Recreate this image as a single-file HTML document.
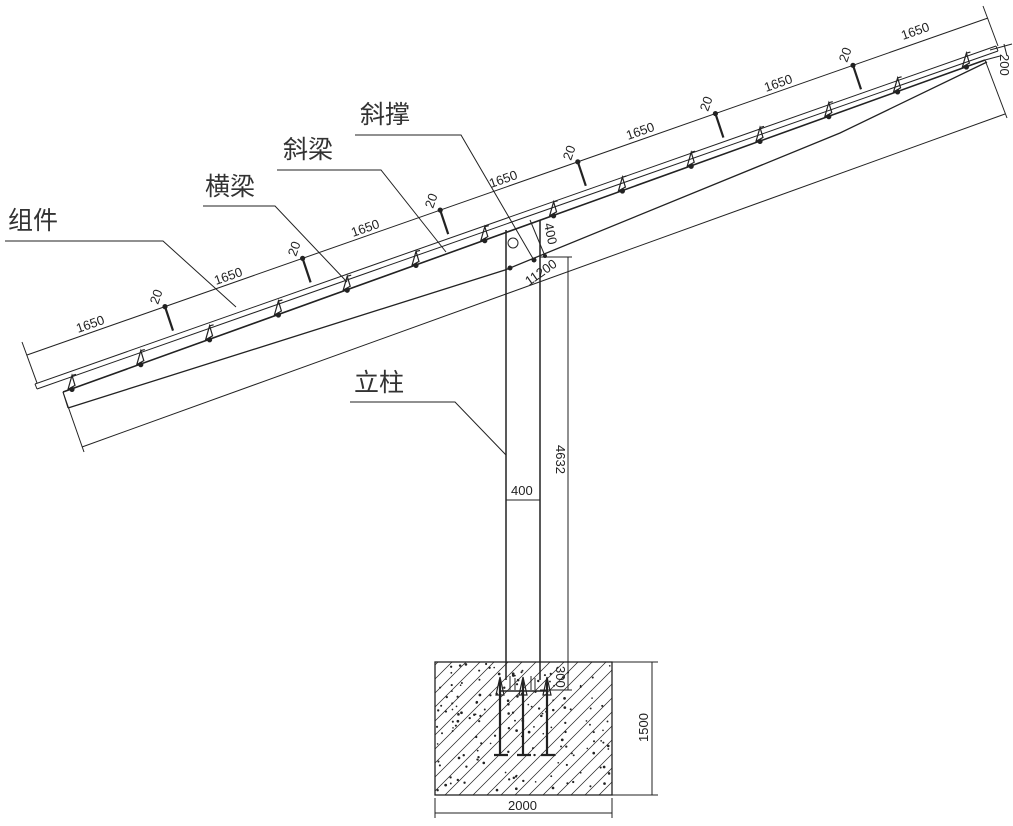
<!DOCTYPE html>
<html><head><meta charset="utf-8">
<style>
html,body{margin:0;padding:0;background:#fff;}
svg{display:block;}
text{font-family:"Liberation Sans","Noto Sans CJK SC",sans-serif;fill:#222;}
.d{font-size:13px;}
.c{font-size:25px;fill:#333;}
</style></head>
<body>
<svg id="s" width="1013" height="826" viewBox="0 0 1013 826" xmlns="http://www.w3.org/2000/svg">
<defs>
<clipPath id="fc"><rect x="435" y="662" width="177" height="133"/></clipPath>
</defs>
<g stroke="#222" fill="none" stroke-width="1">
<line x1="27" y1="355" x2="988" y2="18"/>
<line x1="22" y1="342" x2="37" y2="383"/>
<line x1="983" y1="6" x2="998" y2="46"/>
<line x1="35" y1="384" x2="996" y2="46"/>
<line x1="37" y1="389" x2="998" y2="51"/>
<line x1="35" y1="384" x2="37" y2="389"/>
<line x1="996" y1="46" x2="998" y2="51"/>
<line x1="63" y1="392" x2="985" y2="60" stroke-width="1.6"/>
<line x1="63" y1="392" x2="68" y2="408"/>
<polyline points="68,408 505,270 840,133 987,62" stroke-width="1.3"/>
<line x1="82" y1="447" x2="1005" y2="114"/>
<line x1="63" y1="392" x2="84" y2="452"/>
<line x1="985" y1="60" x2="1007" y2="118"/>
<line x1="985" y1="60" x2="1000" y2="56"/>
<line x1="990" y1="50" x2="1012" y2="44"/>
<line x1="1004" y1="44" x2="1007" y2="56"/>
<polyline points="5,241 163,241 236,307"/>
<polyline points="203,206 275,206 347,282"/>
<polyline points="277,170 381,170 446,252"/>
<polyline points="355,135 461,135 535,262"/>
<circle cx="513" cy="243" r="5"/>
<polyline points="350,402 455,402 506,455"/>
<line x1="506" y1="230" x2="506" y2="680" stroke-width="1.5"/>
<line x1="540" y1="220" x2="540" y2="680" stroke-width="1.5"/>
<line x1="530" y1="220" x2="545" y2="256"/>
<line x1="540" y1="257" x2="572" y2="257"/>
<line x1="568" y1="257" x2="568" y2="690"/>
<line x1="540" y1="690" x2="572" y2="690"/>
<line x1="506" y1="500" x2="540" y2="500"/>
<rect x="435" y="662" width="177" height="133" stroke-width="1.3"/>
<g id="hatch" clip-path="url(#fc)" stroke-width="0.7"></g>
<g id="dots" clip-path="url(#fc)" fill="#222" stroke="none"></g>
<line x1="612" y1="662" x2="658" y2="662"/>
<line x1="612" y1="795" x2="658" y2="795"/>
<line x1="652" y1="662" x2="652" y2="795"/>
<line x1="435" y1="798" x2="435" y2="818"/>
<line x1="612" y1="798" x2="612" y2="818"/>
<line x1="435" y1="813" x2="612" y2="813"/>
<line x1="500" y1="691" x2="548" y2="691" stroke-width="1.5"/>
<g stroke-width="2.2">
<polyline points="500,680 500,755 494,755 508,755"/>
<polyline points="523,680 523,755 517,755 531,755"/>
<polyline points="547,680 547,755 541,755 555,755"/>
</g>
<path d="M496,695 l4,-18 l4,18 z M519,695 l4,-18 l4,18 z M543,695 l4,-18 l4,18 z" stroke-width="1.2"/>
<path d="M510,676 v14 M515,678 v12 M531,676 v14 M535,678 v12"/>
<g id="clamps" stroke-width="1.2"></g>
<g id="bolts" stroke-width="2.2"></g>
</g>
<circle cx="510" cy="268" r="2.5" fill="#222"/>
<circle cx="534" cy="260" r="2.5" fill="#222"/>
<circle cx="545" cy="256" r="2" fill="#222"/>
<text class="c" x="8" y="229">组件</text>
<text class="c" x="205" y="195">横梁</text>
<text class="c" x="283" y="158">斜梁</text>
<text class="c" x="360" y="123">斜撑</text>
<text class="c" x="354" y="391">立柱</text>
<g class="d">
<text transform="translate(78,333) rotate(-19.3)">1650</text>
<text transform="translate(216,285) rotate(-19.3)">1650</text>
<text transform="translate(353,237) rotate(-19.3)">1650</text>
<text transform="translate(491,188) rotate(-19.3)">1650</text>
<text transform="translate(628,140) rotate(-19.3)">1650</text>
<text transform="translate(766,92) rotate(-19.3)">1650</text>
<text transform="translate(903,40) rotate(-19.3)">1650</text>
<text transform="translate(158,305) rotate(-71)">20</text>
<text transform="translate(296,257) rotate(-71)">20</text>
<text transform="translate(433,209) rotate(-71)">20</text>
<text transform="translate(571,161) rotate(-71)">20</text>
<text transform="translate(708,112) rotate(-71)">20</text>
<text transform="translate(847,63) rotate(-71)">20</text>
<text transform="translate(1000,54) rotate(90)">200</text>
<text transform="translate(544,224) rotate(78)">400</text>
<text transform="translate(529,286) rotate(-35)">11200</text>
<text transform="translate(556,445) rotate(90)">4632</text>
<text x="511" y="495">400</text>
<text transform="translate(556,666) rotate(90)">300</text>
<text transform="translate(648,742) rotate(-90)">1500</text>
<text x="508" y="810">2000</text>
</g>
</svg>
<script>
var NS="http://www.w3.org/2000/svg";
function el(p,t,a){var e=document.createElementNS(NS,t);for(var k in a)e.setAttribute(k,a[k]);p.appendChild(e);return e;}
var h=document.getElementById("hatch");
for(var i=-200;i<260;i+=14){el(h,"line",{x1:435+i,y1:795,x2:435+i+133,y2:662});}
var d=document.getElementById("dots");
var seed=7;function r(){seed=(seed*9301+49297)%233280;return seed/233280;}
for(var j=0;j<160;j++){el(d,"circle",{cx:437+r()*173,cy:664+r()*129,r:0.8+r()*0.6});}
var c=document.getElementById("clamps");
for(var k=0;k<14;k++){var x=73+k*68.8,y=392-0.3604*(x-63);
el(c,"path",{d:"M"+(x-5)+","+(y+1)+" L"+(x-1)+","+(y-13)+" L"+(x+2)+","+(y-3)+" Z M"+(x-1)+","+(y-13)+" l4,-1"});
el(c,"circle",{cx:x-1,cy:y+1,r:2,fill:"#222"});}
var b=document.getElementById("bolts");
for(var m=0;m<6;m++){var bx=165+m*137.6,by=355-0.3507*(bx-27);
el(b,"line",{x1:bx,y1:by,x2:bx+8,y2:by+24});
el(b,"circle",{cx:bx,cy:by,r:1.5,fill:"#222"});}
</script>
</body></html>
